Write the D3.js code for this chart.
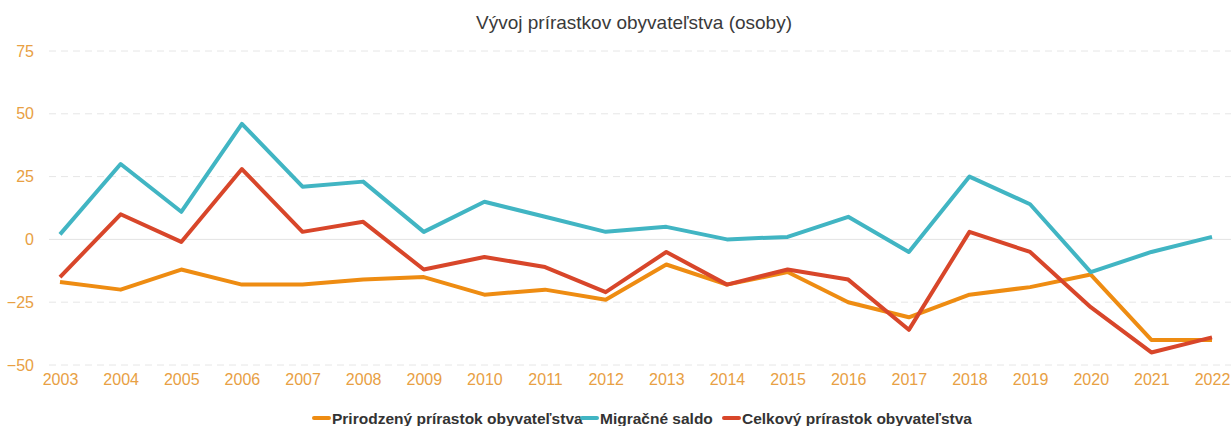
<!DOCTYPE html>
<html>
<head>
<meta charset="utf-8">
<script src="https://cdn.jsdelivr.net/npm/d3@7"></script>
<style>
  body { margin: 0; background: #fff; }
  svg { display: block; font-family: "Liberation Sans", Arial, sans-serif; }
</style>
</head>
<body>
<script>
// data
var years = ["2003","2004","2005","2006","2007","2008","2009","2010","2011","2012",
             "2013","2014","2015","2016","2017","2018","2019","2020","2021","2022"];
var prirodzeny = [-17,-20,-12,-18,-18,-16,-15,-22,-20,-24,-10,-18,-13,-25,-31,-22,-19,-14,-40,-40];
var migracne   = [2,30,11,46,21,23,3,15,9,3,5,0,1,9,-5,25,14,-13,-5,1];
var celkovy    = [-15,10,-1,28,3,7,-12,-7,-11,-21,-5,-18,-12,-16,-36,3,-5,-27,-45,-39];
var yTicks = [-50,-25,0,25,50,75];
var seriesNames = ["Prirodzený prírastok obyvateľstva", "Migračné saldo", "Celkový prírastok obyvateľstva"];
var seriesColors = ["#ee8c12", "#41b5c3", "#d8462a"];

var w = 1231, h = 426;

var svg = d3.select("body").append("svg")
    .attr("width", w)
    .attr("height", h);

var x = d3.scalePoint().domain(years).range([60, 1212]);
var y = d3.scaleLinear().domain([-50, 75]).range([365, 51]);

// title
svg.append("text")
    .attr("x", 634).attr("y", 29)
    .attr("text-anchor", "middle")
    .style("font-size", "19px")
    .style("fill", "#3a3a3a")
    .text("Vývoj prírastkov obyvateľstva (osoby)");

// gridlines
svg.append("g").selectAll("line")
    .data(yTicks)
    .enter().append("line")
    .attr("x1", 49).attr("x2", w)
    .attr("y1", function(d){ return y(d); })
    .attr("y2", function(d){ return y(d); })
    .style("stroke", function(d){ return d === 0 ? "#e4e4e4" : "#e6e6e6"; })
    .style("stroke-width", 1)
    .style("stroke-dasharray", function(d){ return d === 0 ? null : "7,5"; });

// y axis labels
var yAxis = d3.axisLeft(y).tickValues(yTicks).tickSize(0).tickPadding(0);
var gy = svg.append("g").attr("transform", "translate(34,0)").call(yAxis);
gy.select(".domain").remove();
gy.selectAll("text")
    .style("font-size", "16px")
    .style("fill", "#e8a043")
    .style("font-family", "'Liberation Sans', Arial, sans-serif");

// x axis labels
var xAxis = d3.axisBottom(x).tickSize(0).tickPadding(0);
var gx = svg.append("g").attr("transform", "translate(0,374)").call(xAxis);
gx.select(".domain").remove();
gx.selectAll("text")
    .style("font-size", "16px")
    .style("fill", "#e8a043")
    .style("font-family", "'Liberation Sans', Arial, sans-serif");

// lines
var line = d3.line()
    .x(function(d, i){ return x(years[i]); })
    .y(function(d){ return y(d); });

[prirodzeny, migracne, celkovy].forEach(function(s, i){
    svg.append("path")
        .datum(s)
        .attr("d", line)
        .style("fill", "none")
        .style("stroke", seriesColors[i])
        .style("stroke-width", 4)
        .style("stroke-linejoin", "round");
});

// legend
var legendX = [314, 582, 724];
var legend = svg.append("g").selectAll("g")
    .data(seriesNames)
    .enter().append("g")
    .attr("transform", function(d, i){ return "translate(" + legendX[i] + ",418)"; });

legend.append("line")
    .attr("x1", 0).attr("x2", 15)
    .attr("y1", 0).attr("y2", 0)
    .style("stroke", function(d, i){ return seriesColors[i]; })
    .style("stroke-width", 4)
    .style("stroke-linecap", "round");

legend.append("text")
    .attr("x", 18).attr("y", 5.5)
    .style("font-size", "15.5px")
    .style("font-weight", "bold")
    .style("fill", "#333")
    .text(function(d){ return d; });
</script>
</body>
</html>
